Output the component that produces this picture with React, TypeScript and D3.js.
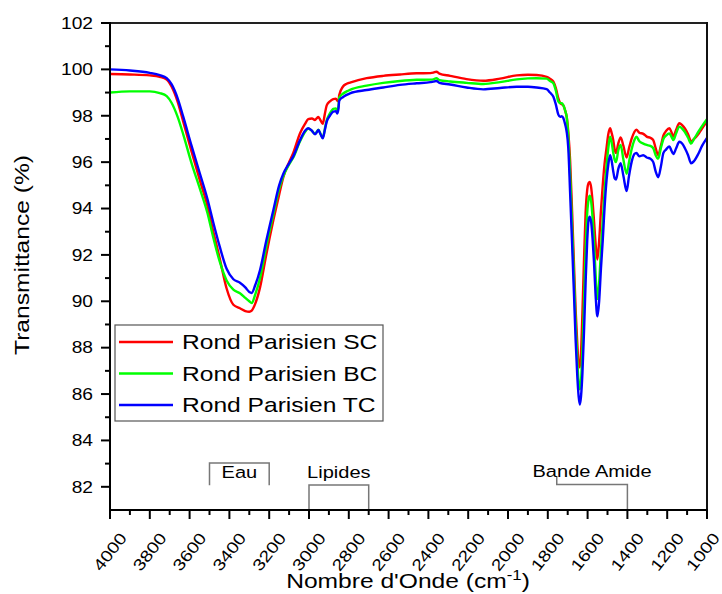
import React from 'react';
import * as d3 from 'd3';

// ---------------- DATA ----------------
const wavenumbers = [
  4000, 3900, 3800, 3750, 3715, 3690, 3660, 3632, 3590, 3548,
  3510, 3481, 3450, 3414, 3380, 3347, 3320, 3300, 3288, 3270,
  3246, 3215, 3179, 3150, 3129, 3100, 3079, 3045, 3020, 3004,
  2985, 2970, 2960, 2953, 2942, 2931, 2920, 2911, 2895, 2878,
  2865, 2858, 2852, 2848, 2830, 2811, 2794, 2710, 2627, 2543,
  2459, 2390, 2375, 2360, 2345, 2291, 2208, 2124, 2040, 1956,
  1900, 1856, 1806, 1789, 1772, 1760, 1747, 1738, 1730, 1722,
  1712, 1705, 1697, 1688, 1678, 1668, 1660, 1652, 1645, 1639,
  1633, 1626, 1618, 1610, 1602, 1595, 1589, 1582, 1575, 1568,
  1560, 1551, 1542, 1533, 1524, 1515, 1505, 1496, 1487, 1479,
  1471, 1464, 1457, 1446, 1434, 1420, 1404, 1392, 1379, 1365,
  1355, 1340, 1320, 1303, 1285, 1270, 1258, 1245, 1232, 1219,
  1205, 1189, 1179, 1169, 1155, 1139, 1125, 1111, 1095, 1080,
  1065, 1044, 1025, 1000,
];

const rondParisienSC = [
  99.80, 99.78, 99.74, 99.68, 99.56, 99.25, 98.60, 97.75, 96.45, 95.20,
  94.10, 93.00, 91.90, 90.55, 89.85, 89.70, 89.58, 89.55, 89.60, 89.90,
  90.60, 92.00, 93.50, 94.60, 95.35, 96.00, 96.40, 97.25, 97.65, 97.85,
  97.88, 97.82, 97.90, 97.95, 97.80, 97.65, 98.10, 98.45, 98.62, 98.72,
  98.74, 98.65, 98.62, 98.90, 99.25, 99.38, 99.43, 99.62, 99.72, 99.78,
  99.83, 99.84, 99.86, 99.90, 99.82, 99.72, 99.58, 99.51, 99.60, 99.74,
  99.77, 99.76, 99.68, 99.60, 99.47, 99.20, 98.75, 98.55, 98.50, 98.45,
  98.20, 97.95, 97.30, 96.10, 93.90, 91.50, 89.60, 88.20, 87.30, 87.15,
  87.80, 89.50, 91.80, 93.80, 94.80, 95.10, 95.15, 94.90, 94.30, 93.50,
  92.50, 91.80, 92.60, 93.90, 95.00, 95.90, 96.60, 97.20, 97.46, 97.25,
  96.95, 96.55, 96.40, 96.80, 97.07, 96.70, 96.20, 96.60, 97.00, 97.30,
  97.40, 97.27, 97.22, 97.10, 97.05, 96.95, 96.60, 96.30, 96.70, 97.15,
  97.35, 97.46, 97.30, 97.10, 97.40, 97.68, 97.60, 97.45, 97.20, 96.90,
  97.00, 97.20, 97.45, 97.75,
];

const rondParisienBC = [
  99.00, 99.05, 99.05, 98.98, 98.85, 98.55, 97.95, 97.20, 95.95, 94.85,
  93.80, 92.75, 91.75, 90.90, 90.50, 90.35, 90.15, 90.00, 89.92, 90.30,
  91.00, 92.35, 93.75, 94.85, 95.40, 95.90, 96.20, 96.90, 97.30, 97.45,
  97.35, 97.22, 97.32, 97.40, 97.22, 97.05, 97.45, 97.80, 98.10, 98.30,
  98.32, 98.22, 98.40, 98.78, 98.95, 99.05, 99.12, 99.30, 99.42, 99.50,
  99.55, 99.56, 99.57, 99.62, 99.54, 99.48, 99.42, 99.37, 99.45, 99.57,
  99.61, 99.62, 99.60, 99.50, 99.40, 99.10, 98.62, 98.55, 98.54, 98.45,
  98.20, 97.95, 97.10, 95.50, 93.20, 90.90, 89.00, 87.50, 86.50, 86.20,
  86.60, 87.90, 90.00, 92.20, 93.80, 94.40, 94.55, 94.30, 93.60, 92.60,
  91.20, 90.10, 90.80, 92.20, 93.40, 94.70, 95.80, 96.60, 97.10, 96.85,
  96.40, 96.10, 96.00, 96.50, 96.74, 96.10, 95.50, 96.00, 96.55, 96.95,
  97.10, 96.90, 96.80, 96.74, 96.70, 96.60, 96.30, 96.15, 96.60, 97.00,
  97.15, 97.24, 97.10, 96.95, 97.25, 97.53, 97.45, 97.30, 97.05, 96.80,
  97.00, 97.30, 97.55, 97.85,
];

const rondParisienTC = [
  100.00, 99.95, 99.85, 99.75, 99.62, 99.35, 98.75, 97.96, 96.70, 95.50,
  94.40, 93.40, 92.40, 91.40, 90.95, 90.80, 90.60, 90.40, 90.36, 90.70,
  91.35, 92.60, 93.94, 95.00, 95.50, 95.95, 96.25, 96.95, 97.35, 97.46,
  97.35, 97.20, 97.30, 97.39, 97.20, 97.03, 97.40, 97.75, 98.00, 98.18,
  98.20, 98.10, 98.30, 98.65, 98.80, 98.90, 98.97, 99.11, 99.22, 99.33,
  99.40, 99.45, 99.47, 99.50, 99.42, 99.35, 99.22, 99.14, 99.20, 99.25,
  99.25, 99.22, 99.15, 99.00, 98.82, 98.50, 98.05, 97.95, 97.98, 97.90,
  97.60, 97.30, 96.60, 94.70, 92.50, 90.20, 88.30, 86.80, 85.90, 85.55,
  85.90, 86.90, 88.70, 90.80, 92.60, 93.50, 93.65, 93.40, 92.70, 91.70,
  90.30, 89.35, 90.00, 91.40, 92.60, 94.00, 95.20, 95.90, 96.30, 96.05,
  95.60, 95.30, 95.25, 95.70, 95.95, 95.40, 94.75, 95.40, 96.00, 96.35,
  96.40, 96.25, 96.30, 96.20, 96.15, 96.00, 95.60, 95.35, 95.80, 96.40,
  96.55, 96.68, 96.50, 96.35, 96.60, 96.88, 96.80, 96.60, 96.30, 95.95,
  96.05, 96.35, 96.70, 97.05,
];

const seriesNames = ['Rond Parisien SC', 'Rond Parisien BC', 'Rond Parisien TC'];
const seriesValues = [rondParisienSC, rondParisienBC, rondParisienTC];
const seriesColors = ['#ff0000', '#00ff00', '#0000ff'];

const xTickValues = [4000, 3800, 3600, 3400, 3200, 3000, 2800, 2600, 2400, 2200, 2000, 1800, 1600, 1400, 1200, 1000];
const xMinorTickValues = [3900, 3700, 3500, 3300, 3100, 2900, 2700, 2500, 2300, 2100, 1900, 1700, 1500, 1300, 1100];
const yTickValues = [82, 84, 86, 88, 90, 92, 94, 96, 98, 100, 102];
const yMinorTickValues = [83, 85, 87, 89, 91, 93, 95, 97, 99, 101];

const bandLabels = ['Eau', 'Lipides', 'Bande Amide'];
const bandStart = [3500, 3000, 1755];
const bandEnd = [3200, 2700, 1400];
const bandLineLevel = [83.03, 82.08, 82.1];
const bandLeftLegEnd = [82.07, 81, 82.47];
const bandRightLegEnd = [82.07, 81, 81];
const bandTextLevel = [82.36, 82.4, 82.44];

// ---------------- LAYOUT ----------------
const W = 722;
const H = 594;
const FONT = '"Liberation Sans", Arial, Helvetica, sans-serif';
const SX = 1.2; // horizontal glyph stretch of the original rendering

const x = d3.scaleLinear().domain([4000, 1000]).range([110, 707]);
const y = d3.scaleLinear().domain([81, 102]).range([510, 23]);

export default function App() {
  const line = d3
    .line<number>()
    .x((_, i) => x(wavenumbers[i]))
    .y((d) => y(d))
    .curve(d3.curveMonotoneX);

  const [x0, x1] = x.range();
  const [yb, yt] = y.range();

  return (
    <svg
      width={W}
      height={H}
      viewBox={`0 0 ${W} ${H}`}
      style={{ position: 'absolute', left: 0, top: 0, display: 'block', background: '#fff' }}
      fontFamily={FONT}
    >
      <rect x={0} y={0} width={W} height={H} fill="#fff" />
      <defs>
        <clipPath id="plot">
          <rect x={x0} y={yt} width={x1 - x0} height={yb - yt} />
        </clipPath>
      </defs>

      {/* band annotations */}
      {bandLabels.map((lab, i) => {
        const xs = x(bandStart[i]);
        const xe = x(bandEnd[i]);
        const yl = y(bandLineLevel[i]);
        return (
          <g key={lab}>
            <path
              d={`M${xs},${y(bandLeftLegEnd[i])}L${xs},${yl}L${xe},${yl}L${xe},${y(bandRightLegEnd[i])}`}
              fill="none"
              stroke="#777"
              strokeWidth={1.5}
            />
            <text
              transform={`translate(${(xs + xe) / 2},${y(bandTextLevel[i])}) scale(${SX},1)`}
              textAnchor="middle"
              fontSize={16.7}
              fill="#000"
            >
              {lab}
            </text>
          </g>
        );
      })}

      {/* spectra */}
      <g clipPath="url(#plot)">
        {seriesValues.map((vals, i) => (
          <path
            key={seriesNames[i]}
            d={line(vals) || ''}
            fill="none"
            stroke={seriesColors[i]}
            strokeWidth={2.4}
            strokeLinejoin="round"
          />
        ))}
      </g>

      {/* frame */}
      <line x1={x0} x2={x1} y1={yt} y2={yt} stroke="#222" strokeWidth={2} />
      <line x1={x1} x2={x1} y1={yt - 1} y2={yb} stroke="#111" strokeWidth={2} />
      <line x1={x0} x2={x0} y1={yt - 1} y2={yb + 1} stroke="#000" strokeWidth={2} />
      <line x1={x0 - 1} x2={x1 + 1} y1={yb} y2={yb} stroke="#000" strokeWidth={2} />

      {/* y ticks */}
      {yTickValues.map((v) => (
        <g key={'y' + v}>
          <line x1={x0 - 9} x2={x0} y1={y(v)} y2={y(v)} stroke="#000" strokeWidth={2} />
          <text
            transform={`translate(${x0 - 17},${y(v) + 5.8}) scale(${SX},1)`}
            textAnchor="end"
            fontSize={16}
            fill="#000"
          >
            {v}
          </text>
        </g>
      ))}
      {yMinorTickValues.map((v) => (
        <line key={'ym' + v} x1={x0 - 5} x2={x0} y1={y(v)} y2={y(v)} stroke="#000" strokeWidth={2} />
      ))}

      {/* x ticks */}
      {xTickValues.map((v) => {
        const cx = Math.min(x(v), W - 19);
        return (
          <g key={'x' + v}>
            <line x1={x(v)} x2={x(v)} y1={yb} y2={yb + 9} stroke="#000" strokeWidth={2} />
            <text
              transform={`translate(${cx},${552}) rotate(-52) scale(${SX},1)`}
              textAnchor="middle"
              dominantBaseline="central"
              fontSize={16.2}
              fill="#000"
            >
              {v}
            </text>
          </g>
        );
      })}
      {xMinorTickValues.map((v) => (
        <line key={'xm' + v} x1={x(v)} x2={x(v)} y1={yb} y2={yb + 5} stroke="#000" strokeWidth={2} />
      ))}

      {/* axis titles */}
      <text
        transform={`translate(${29},${255}) rotate(-90) scale(${SX},1)`}
        textAnchor="middle"
        fontSize={20.5}
        fill="#000"
      >
        Transmittance (%)
      </text>
      <text
        transform={`translate(${408},${588}) scale(${SX},1)`}
        textAnchor="middle"
        fontSize={20.5}
        fill="#000"
      >
        Nombre d'Onde (cm
        <tspan fontSize={14} dy={-8}>-1</tspan>
        <tspan dy={8}>)</tspan>
      </text>

      {/* legend */}
      <rect x={115} y={325} width={268} height={96} fill="#fff" stroke="#555" strokeWidth={1.2} />
      {seriesNames.map((name, i) => {
        const ry = 342 + i * 31.5;
        return (
          <g key={'lg' + name}>
            <line x1={119} x2={173} y1={ry} y2={ry} stroke={seriesColors[i]} strokeWidth={2.4} />
            <text
              transform={`translate(${182},${ry + 7.4}) scale(${SX},1)`}
              fontSize={20.5}
              fill="#000"
            >
              {name}
            </text>
          </g>
        );
      })}
    </svg>
  );
}
